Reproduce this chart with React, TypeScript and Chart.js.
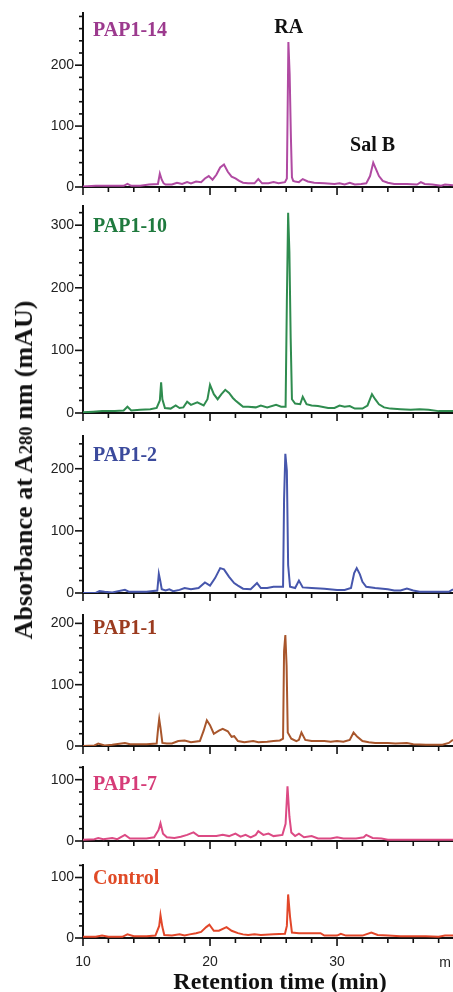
import React, { useEffect, useRef } from 'react';
import { Chart, registerables } from 'chart.js';
Chart.register(...registerables);

// ---- data: [retention time (min), absorbance (mAU)] ----
const PAP1_14: [number, number][] = [
  [10, 1], [11, 2], [12, 2], [13.2, 2], [13.5, 5], [13.8, 2], [14.5, 2], [15.2, 4], [15.9, 5],
  [16.05, 22], [16.2, 12], [16.35, 6], [16.5, 4], [17, 4], [17.4, 7], [17.8, 5], [18.2, 8],
  [18.5, 6], [18.9, 9], [19.3, 8], [19.6, 14], [19.9, 18], [20.2, 12], [20.5, 20], [20.8, 32],
  [21.1, 37], [21.4, 25], [21.7, 17], [22.0, 14], [22.3, 10], [22.6, 7], [23.0, 6], [23.5, 6],
  [23.8, 13], [24.1, 6], [24.6, 6], [25.0, 8], [25.4, 6], [25.9, 8], [26.05, 14], [26.1, 105],
  [26.17, 238], [26.27, 185], [26.37, 80], [26.45, 16], [26.55, 10], [26.7, 9], [27.0, 8],
  [27.3, 13], [27.7, 9], [28.2, 7], [29, 6], [29.8, 5], [30.2, 6], [30.6, 4], [31.0, 7],
  [31.4, 4], [31.9, 5], [32.3, 6], [32.6, 18], [32.85, 40], [33.05, 30], [33.3, 18], [33.6, 10],
  [34, 7], [34.5, 5], [35.5, 5], [36.3, 4], [36.6, 8], [36.9, 5], [37.5, 4], [38.2, 2],
  [38.5, 4], [39.13, 3],
];
const PAP1_10: [number, number][] = [
  [10, 1], [10.8, 2], [11.5, 3], [12.5, 3], [13.2, 4], [13.5, 10], [13.8, 4], [14.5, 5],
  [15.3, 6], [15.8, 8], [16.05, 20], [16.15, 49], [16.25, 22], [16.45, 8], [16.9, 7], [17.3, 12],
  [17.6, 8], [17.9, 9], [18.2, 18], [18.5, 13], [19.0, 17], [19.5, 12], [19.8, 22], [20.0, 45],
  [20.3, 30], [20.6, 22], [20.9, 30], [21.2, 37], [21.5, 32], [21.8, 24], [22.0, 20], [22.3, 15],
  [22.6, 10], [23.0, 10], [23.6, 9], [24.0, 12], [24.5, 9], [25.2, 13], [25.6, 10], [25.95, 10],
  [26.05, 178], [26.15, 320], [26.25, 257], [26.35, 120], [26.45, 22], [26.7, 15], [27.1, 14],
  [27.3, 26], [27.6, 14], [28.0, 12], [28.5, 11], [29.3, 8], [29.8, 8], [30.2, 12], [30.6, 10],
  [31.0, 11], [31.4, 7], [32.0, 7], [32.4, 12], [32.75, 30], [33.0, 22], [33.3, 14], [33.7, 9],
  [34.2, 7], [35.0, 6], [35.8, 5], [36.5, 6], [37.2, 5], [38.0, 3], [39.13, 3],
];
const PAP1_2: [number, number][] = [
  [10, 0], [11.0, 0], [11.3, 3], [11.7, 2], [12.3, 1], [13.3, 5], [13.6, 2], [15.0, 2],
  [15.85, 4], [15.97, 31], [16.08, 20], [16.2, 6], [16.5, 4], [16.8, 6], [17.1, 3], [17.6, 5],
  [18.0, 8], [18.5, 6], [19.1, 8], [19.6, 17], [20.0, 12], [20.4, 24], [20.8, 40], [21.1, 38],
  [21.5, 26], [21.9, 16], [22.2, 12], [22.6, 7], [23.2, 6], [23.7, 16], [24.0, 8], [24.5, 8],
  [25.0, 10], [25.4, 10], [25.75, 10], [25.83, 150], [25.93, 224], [26.05, 197], [26.15, 45],
  [26.3, 10], [26.7, 8], [27.0, 20], [27.3, 9], [28.0, 8], [29.0, 7], [30.0, 5], [30.6, 5],
  [31.1, 8], [31.35, 32], [31.55, 40], [31.8, 30], [32.0, 18], [32.3, 10], [33.0, 8], [34.0, 6],
  [34.5, 4], [35.0, 4], [35.5, 7], [36.0, 4], [36.5, 2], [37.5, 2], [38.8, 2], [39.13, 6],
];
const PAP1_1: [number, number][] = [
  [10, 0], [10.9, 1], [11.2, 4], [11.7, 1], [12.3, 2], [13.3, 5], [13.7, 3], [15.0, 3],
  [15.8, 4], [15.92, 30], [16.0, 44], [16.1, 30], [16.25, 5], [16.6, 4], [17.0, 4], [17.5, 8],
  [18.0, 9], [18.5, 6], [19.2, 8], [19.5, 25], [19.75, 42], [20.0, 34], [20.3, 20], [20.7, 25],
  [21.0, 28], [21.4, 24], [21.7, 15], [21.9, 16], [22.2, 8], [22.7, 6], [23.4, 8], [23.8, 6],
  [24.5, 7], [25.0, 8], [25.5, 9], [25.75, 12], [25.83, 155], [25.93, 181], [26.03, 131],
  [26.12, 22], [26.4, 12], [26.8, 8], [27.0, 10], [27.2, 22], [27.5, 10], [28.0, 8], [29.0, 8],
  [29.5, 7], [30.0, 8], [30.5, 7], [31.0, 10], [31.3, 22], [31.6, 15], [32.0, 8], [32.5, 6],
  [33.0, 5], [34.0, 5], [34.6, 4], [35.5, 5], [36.0, 3], [37.0, 2], [38.3, 2], [38.8, 5],
  [39.13, 10],
];
const PAP1_7: [number, number][] = [
  [10, 2], [10.9, 3], [11.2, 5], [11.6, 3], [12.3, 5], [12.7, 3], [13.3, 10], [13.7, 4],
  [15.0, 4], [15.6, 6], [15.95, 18], [16.1, 29], [16.3, 12], [16.6, 6], [17.2, 5], [17.7, 7],
  [18.2, 10], [18.7, 14], [19.1, 8], [20.0, 8], [20.5, 8], [21.0, 10], [21.5, 8], [22.0, 12],
  [22.4, 7], [22.8, 10], [23.2, 6], [23.6, 10], [23.8, 16], [24.2, 10], [24.6, 12], [25.0, 8],
  [25.7, 10], [25.95, 28], [26.1, 89], [26.25, 40], [26.4, 14], [26.7, 8], [27.0, 12], [27.4, 6],
  [28.0, 8], [28.5, 4], [29.5, 4], [30.0, 6], [30.5, 4], [31.5, 4], [32.1, 6], [32.3, 10],
  [32.8, 5], [33.5, 4], [34.0, 2], [36.0, 2], [39.13, 2],
];
const CONTROL: [number, number][] = [
  [10, 2], [11.0, 2], [11.5, 4], [12.0, 2], [13.1, 2], [13.5, 6], [14.0, 3], [15.0, 3],
  [15.7, 4], [16.0, 20], [16.1, 38], [16.25, 18], [16.4, 5], [17.0, 4], [17.6, 6], [18.0, 4],
  [18.4, 6], [18.9, 8], [19.3, 10], [19.7, 18], [19.95, 22], [20.3, 12], [20.7, 12], [21.3, 18],
  [21.7, 12], [22.2, 8], [22.6, 6], [23.0, 5], [23.5, 6], [24.0, 5], [25.0, 6], [25.9, 7],
  [26.05, 20], [26.15, 72], [26.3, 35], [26.45, 9], [27.0, 8], [28.0, 8], [28.7, 8], [29.0, 4],
  [30.0, 4], [30.3, 7], [30.7, 4], [31.0, 4], [32.0, 4], [32.7, 9], [33.2, 5], [34.0, 4],
  [35.0, 3], [37.0, 3], [38.0, 2], [38.5, 4], [39.13, 4],
];

const SAMPLES = [PAP1_14, PAP1_10, PAP1_2, PAP1_1, PAP1_7, CONTROL];
const SAMPLE_NAMES = ['PAP1-14', 'PAP1-10', 'PAP1-2', 'PAP1-1', 'PAP1-7', 'Control'];
const SAMPLE_YMAX = [285, 330, 252, 213, 120, 120];
const X_MIN = 10;
const X_MAX = 39.13;
const X_LABELED = [10, 20, 30];
const X_UNIT_LABEL = 'm';
const PEAK_NAMES = ['RA', 'Sal B'];
const PEAK_AT: [number, number][] = [[26.2, 261], [32.8, 68]];

// ---- styling / layout ----
const LINE_COLORS = ['#b04aa2', '#2f8c4f', '#4656ac', '#a8562c', '#dc4a84', '#e2472a'];
const TEXT_COLORS = ['#9c3a8e', '#1f7a3e', '#3b4a9c', '#9b3b1f', '#d63c78', '#e04a26'];
const PANEL_TOP = [10, 203, 433, 612, 764, 862];
const PANEL_BOTTOM = [187, 413, 593, 746, 841, 938];
const LABEL_DY = [17, 20, 19, 13, 17, 13];
const PAD_TOP = 6;
const Y_AXIS_W = 83;
const TICK_FONT = '"Liberation Sans", Arial, sans-serif';
const SERIF = '"Liberation Serif", "Times New Roman", serif';

const tickMarks = {
  id: 'tickMarks',
  afterDraw(chart: any) {
    const { ctx } = chart;
    const xs = chart.scales.x;
    const ys = chart.scales.y;
    ctx.save();
    ctx.strokeStyle = '#111';
    ctx.lineWidth = 1.6;
    xs.ticks.forEach((t: any) => {
      const v = t.value;
      const px = xs.getPixelForValue(v);
      const len = Math.abs(v % 10) < 1e-6 ? 8 : 5;
      ctx.beginPath();
      ctx.moveTo(px, xs.top);
      ctx.lineTo(px, xs.top + len);
      ctx.stroke();
    });
    ys.ticks.forEach((t: any) => {
      const v = t.value;
      const py = ys.getPixelForValue(v);
      const len = Math.abs(v % 100) < 1e-6 ? 8 : 4;
      ctx.beginPath();
      ctx.moveTo(ys.right, py);
      ctx.lineTo(ys.right - len, py);
      ctx.stroke();
    });
    ctx.restore();
  },
};

const panelText = {
  id: 'panelText',
  afterDraw(chart: any, _args: any, opts: any) {
    const { ctx, chartArea } = chart;
    ctx.save();
    ctx.font = `bold 20px ${SERIF}`;
    ctx.fillStyle = opts.color;
    ctx.textAlign = 'left';
    ctx.textBaseline = 'middle';
    ctx.fillText(opts.name, chartArea.left + 10, chartArea.top + opts.dy);
    if (opts.peaks) {
      ctx.fillStyle = '#111';
      ctx.textAlign = 'center';
      opts.peaks.forEach((name: string, i: number) => {
        const [x, y] = PEAK_AT[i];
        ctx.fillText(name, chart.scales.x.getPixelForValue(x), chart.scales.y.getPixelForValue(y));
      });
    }
    if (opts.unit) {
      const xs = chart.scales.x;
      ctx.font = `14px ${TICK_FONT}`;
      ctx.fillStyle = '#222';
      ctx.textAlign = 'center';
      ctx.textBaseline = 'top';
      ctx.fillText(opts.unit, chartArea.right - 8, xs.top + 18);
    }
    ctx.restore();
  },
};

function Panel({ index }: { index: number }) {
  const ref = useRef<HTMLCanvasElement>(null);
  const isBottom = index === SAMPLES.length - 1;
  const xh = isBottom ? 36 : 12;
  const top = PANEL_TOP[index] - PAD_TOP;
  const height = PAD_TOP + (PANEL_BOTTOM[index] - PANEL_TOP[index]) + xh;

  useEffect(() => {
    if (!ref.current) return;
    const chart = new Chart(ref.current, {
      type: 'line',
      data: {
        datasets: [
          {
            data: SAMPLES[index].map(([x, y]) => ({ x, y })),
            borderColor: LINE_COLORS[index],
            borderWidth: 2,
            pointRadius: 0,
            tension: 0,
            fill: false,
          },
        ],
      },
      options: {
        animation: false,
        responsive: false,
        parsing: false as any,
        layout: { padding: { top: PAD_TOP, left: 0, right: 0, bottom: 0 } },
        plugins: {
          legend: { display: false },
          tooltip: { enabled: false },
          panelText: {
            name: SAMPLE_NAMES[index],
            color: TEXT_COLORS[index],
            dy: LABEL_DY[index],
            peaks: index === 0 ? PEAK_NAMES : null,
            unit: isBottom ? X_UNIT_LABEL : null,
          },
        } as any,
        scales: {
          x: {
            type: 'linear',
            min: X_MIN,
            max: X_MAX,
            afterFit: (s: any) => {
              s.height = xh;
            },
            ticks: {
              stepSize: 2,
              autoSkip: false,
              includeBounds: false,
              maxRotation: 0,
              padding: 8,
              color: '#222',
              font: { family: TICK_FONT, size: 14 },
              callback: (v: any) => (isBottom && X_LABELED.includes(Number(v)) ? String(v) : ''),
            },
            grid: { display: true, drawOnChartArea: false, drawTicks: true, tickLength: 8, color: 'rgba(0,0,0,0)' },
            border: { display: true, color: '#111', width: 2 },
          },
          y: {
            type: 'linear',
            min: 0,
            max: SAMPLE_YMAX[index],
            afterFit: (s: any) => {
              s.width = Y_AXIS_W;
            },
            ticks: {
              stepSize: 20,
              autoSkip: false,
              includeBounds: false,
              padding: 1,
              color: '#222',
              font: { family: TICK_FONT, size: 14 },
              callback: (v: any) => (Number(v) % 100 === 0 ? String(v) : ''),
            },
            grid: { display: true, drawOnChartArea: false, drawTicks: true, tickLength: 8, color: 'rgba(0,0,0,0)' },
            border: { display: true, color: '#111', width: 2 },
          },
        },
      } as any,
      plugins: [tickMarks, panelText],
    });
    return () => chart.destroy();
  }, [index]);

  return (
    <canvas
      ref={ref}
      width={453}
      height={height}
      style={{ position: 'absolute', left: 0, top, width: 453, height }}
    />
  );
}

export default function App() {
  return (
    <div
      style={{
        position: 'absolute',
        left: 0,
        top: 0,
        width: 453,
        height: 992,
        overflow: 'hidden',
        background: '#fff',
      }}
    >
      {SAMPLES.map((_, i) => (
        <Panel key={i} index={i} />
      ))}
      <div
        style={{
          position: 'absolute',
          left: 25,
          top: 470,
          transform: 'translate(-50%, -50%) rotate(-90deg)',
          whiteSpace: 'nowrap',
          font: `bold 26px ${SERIF}`,
          lineHeight: '26px',
          color: '#111',
        }}
      >
        Absorbance at A<span style={{ fontSize: '0.72em' }}>280</span> nm (mAU)
      </div>
      <div
        style={{
          position: 'absolute',
          left: 280,
          top: 969,
          transform: 'translateX(-50%)',
          whiteSpace: 'nowrap',
          font: `bold 24px ${SERIF}`,
          lineHeight: '24px',
          color: '#111',
        }}
      >
        Retention time (min)
      </div>
    </div>
  );
}
